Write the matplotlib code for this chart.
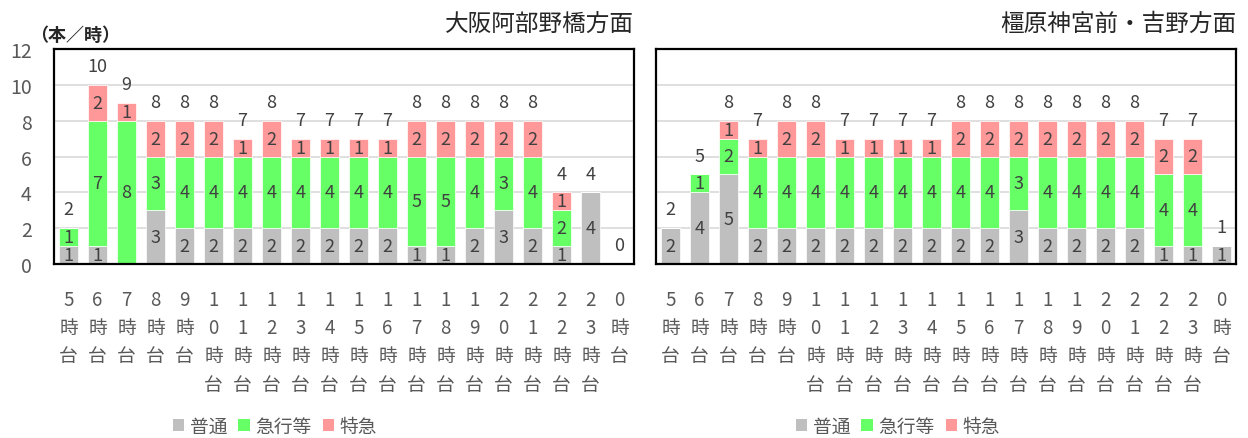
import numpy as np
import matplotlib.pyplot as plt
from matplotlib.patches import Patch

plt.rcParams['font.family'] = ['Noto Sans CJK JP', 'DejaVu Sans']

# hours of the day (5時台 ... 0時台)
hours = ['5', '6', '7', '8', '9', '10', '11', '12', '13', '14', '15', '16',
         '17', '18', '19', '20', '21', '22', '23', '0']

# 大阪阿部野橋方面
osaka_local = [1, 1, 0, 3, 2, 2, 2, 2, 2, 2, 2, 2, 1, 1, 2, 3, 2, 1, 4, 0]
osaka_express = [1, 7, 8, 3, 4, 4, 4, 4, 4, 4, 4, 4, 5, 5, 4, 3, 4, 2, 0, 0]
osaka_limited = [0, 2, 1, 2, 2, 2, 1, 2, 1, 1, 1, 1, 2, 2, 2, 2, 2, 1, 0, 0]

# 橿原神宮前・吉野方面
yoshino_local = [2, 4, 5, 2, 2, 2, 2, 2, 2, 2, 2, 2, 3, 2, 2, 2, 2, 1, 1, 1]
yoshino_express = [0, 1, 2, 4, 4, 4, 4, 4, 4, 4, 4, 4, 3, 4, 4, 4, 4, 4, 4, 0]
yoshino_limited = [0, 0, 1, 1, 2, 2, 1, 1, 1, 1, 2, 2, 2, 2, 2, 2, 2, 2, 2, 0]

series_names = ['普通', '急行等', '特急']
colors = ['#BFBFBF', '#66FF66', '#FF9999']

tick_labels = ['\n'.join(list(h) + ['時', '台']) for h in hours]

fig = plt.figure(figsize=(12.48, 4.39), dpi=100)
ax1 = fig.add_axes([54 / 1248, 174 / 439, 580 / 1248, 215 / 439])
ax2 = fig.add_axes([656 / 1248, 174 / 439, 580 / 1248, 215 / 439])


def draw(ax, local, express, limited, title, show_y):
    x = np.arange(len(hours))
    bottom = np.zeros(len(hours))
    for vals, c in zip([local, express, limited], colors):
        vals = np.array(vals, dtype=float)
        bars = ax.bar(x, vals, 0.65, bottom=bottom, color=c, zorder=2,
                      edgecolor='white', linewidth=0.5)
        for b, v, bt in zip(bars, vals, bottom):
            if v > 0:
                ax.text(b.get_x() + b.get_width() / 2, bt + v / 2, str(int(v)),
                        ha='center', va='center', fontsize=13, color='#404040',
                        zorder=3)
        bottom += vals
    for xi, t in zip(x, bottom):
        ax.annotate(str(int(t)), (xi, t), xytext=(0, 7), textcoords='offset points',
                    ha='center', va='bottom', fontsize=13, color='#404040')
    ax.set_xlim(-0.5, len(hours) - 0.5)
    ax.set_ylim(0, 12)
    ax.set_yticks(range(0, 13, 2))
    ax.yaxis.grid(True, color='#D9D9D9', linewidth=1.2)
    ax.set_axisbelow(True)
    ax.set_xticks(x)
    ax.set_xticklabels(tick_labels, fontsize=13.5, color='#595959',
                       va='top', linespacing=1.45)
    ax.tick_params(axis='x', length=0, pad=18)
    ax.tick_params(axis='y', length=0, pad=16, labelsize=14, labelcolor='#595959')
    if not show_y:
        ax.set_yticklabels([])
    for s in ax.spines.values():
        s.set_color('black')
        s.set_linewidth(1.6)
    ax.set_title(title, loc='right', fontsize=17, color='#262626', pad=14)


draw(ax1, osaka_local, osaka_express, osaka_limited, '大阪阿部野橋方面', True)
draw(ax2, yoshino_local, yoshino_express, yoshino_limited, '橿原神宮前・吉野方面', False)

fig.text(30 / 1248, 1 - 35 / 439, '（本／時）', fontsize=13, color='#262626',
         va='center', ha='left', fontweight='bold')

handles = [Patch(facecolor=c, edgecolor='none') for c in colors]
for cx in [275, 898]:
    fig.legend(handles, series_names, loc='center', ncol=3, frameon=False,
               bbox_to_anchor=(cx / 1248, 1 - 427 / 439), fontsize=13.5,
               handlelength=0.6, handleheight=0.6, handletextpad=0.3,
               columnspacing=0.6, borderpad=0.1, labelcolor='#595959')

fig.savefig('out.png', dpi=100)
